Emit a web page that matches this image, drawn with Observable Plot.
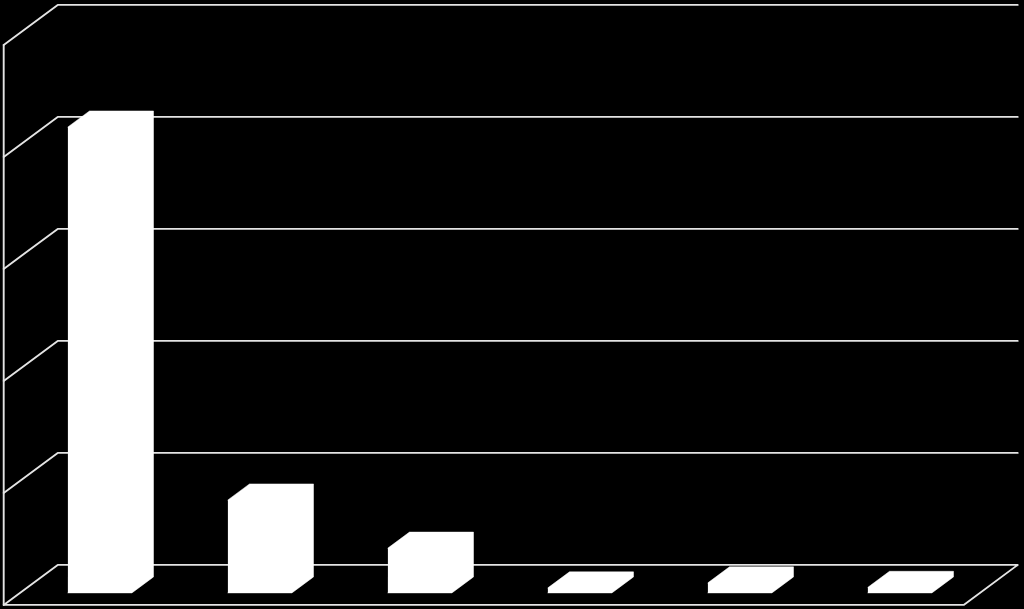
<!DOCTYPE html>
<html>
<head>
<meta charset="utf-8">
<script src="https://cdn.jsdelivr.net/npm/d3@7"></script>
<script src="https://cdn.jsdelivr.net/npm/@observablehq/plot@0.6"></script>
<style>
html,body{margin:0;padding:0;background:#000;overflow:hidden}
svg{display:block;background:#000}
</style>
</head>
<body>
<div id="chart"></div>
<script>
// Values (the chart has no visible labels)
const categories = ["A", "B", "C", "D", "E", "F"];
const values = [4.16, 0.83, 0.40, 0.045, 0.09, 0.05];
const gridLevels = [0, 1, 2, 3, 4, 5];

// Oblique projection: depth (0 front .. 1 back) shifts a point in data units
const depthX = 54 / 160, depthY = 40 / 112;
const project = (cat, val, depth) => ({x: cat + depth * depthX, y: val + depth * depthY});

const n = categories.length;
const barStart = 0.3, barEnd = 0.7, depthStart = 0.3, depthEnd = 0.7;

const barOutlines = categories.flatMap((c, i) => {
  const v = values[i], a = i + barStart, b = i + barEnd;
  return [
    project(a, 0, depthStart), project(b, 0, depthStart), project(b, 0, depthEnd),
    project(b, v, depthEnd), project(a, v, depthEnd), project(a, v, depthStart)
  ].map(p => ({...p, id: c}));
});

const gridLines = gridLevels.flatMap(v => {
  const pts = [project(0, v, 0), project(0, v, 1), project(n, v, 1)];
  if (v === 0) pts.push(project(n, 0, 0), project(0, 0, 0));
  return pts.map(p => ({...p, id: v}));
});
const wall = [project(0, 0, 0), project(0, gridLevels[gridLevels.length - 1], 0)];

const chart = Plot.plot({
  width: 1024,
  height: 609,
  margin: 0,
  style: {background: "#000"},
  x: {domain: [0, n], range: [3.2, 963.2], axis: null},
  y: {domain: [0, 5], range: [604.4, 44.4], axis: null},
  marks: [
    Plot.line(gridLines, {x: "x", y: "y", z: "id", stroke: "#e4e4e4", strokeWidth: 1.9, curve: "linear"}),
    Plot.line(wall, {x: "x", y: "y", stroke: "#e4e4e4", strokeWidth: 1.9}),
    Plot.line(barOutlines, {x: "x", y: "y", z: "id", fill: "#fff", stroke: "#fff", strokeWidth: 0.5})
  ]
});
document.getElementById("chart").append(chart);
</script>
</body>
</html>
